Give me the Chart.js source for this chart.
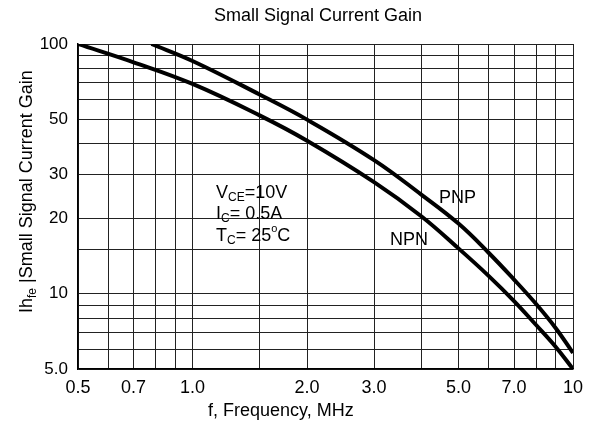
<!DOCTYPE html>
<html><head><meta charset="utf-8">
<script src="https://cdn.jsdelivr.net/npm/chart.js@4/dist/chart.umd.min.js"></script>
<style>html,body{margin:0;padding:0;background:#fff}canvas{display:block}</style>
</head><body>
<canvas id="c" width="595" height="432"></canvas>
<script>
// ---- data ----
const npnFreq = [0.5, 0.7, 1.0, 1.5, 2.0, 3.0, 4.0, 5.0, 6.0, 7.0, 8.0, 9.0, 10];
const npnGain = [100, 84.5, 69.2, 51.8, 41, 28.0, 20.4, 15.2, 11.8, 9.35, 7.5, 6.14, 5.0];
const pnpFreq = [0.78, 1.0, 1.5, 2.0, 3.0, 4.0, 5.0, 6.0, 7.0, 8.0, 9.0, 10];
const pnpGain = [100, 85.5, 62.8, 49.8, 34.3, 24.9, 19.1, 14.6, 11.4, 9.1, 7.3, 5.8];
const seriesNames = ['NPN', 'PNP'];
const xGridValues = [0.5, 0.6, 0.7, 0.8, 0.9, 1, 1.5, 2, 3, 4, 5, 6, 7, 8, 9, 10];
const yGridValues = [5, 6, 7, 8, 9, 10, 15, 20, 30, 40, 50, 60, 70, 80, 90, 100];
const xTickValues = [0.5, 0.7, 1, 2, 3, 5, 7, 10];
const xTickLabels = ['0.5', '0.7', '1.0', '2.0', '3.0', '5.0', '7.0', '10'];
const yTickValues = [5, 10, 20, 30, 50, 100];
const yTickLabels = ['5.0', '10', '20', '30', '50', '100'];
const chartTitle = 'Small Signal Current Gain';
const xTitle = 'f, Frequency, MHz';
const yTitleMain = 'Ih';
const yTitleSub = 'fe';
const yTitleRest = ' |Small Signal Current Gain';

const FONT = "'Liberation Sans', Arial, Helvetica, sans-serif";

function labelFor(v, vals, labels) {
  const i = vals.findIndex(t => Math.abs(t - v) < 1e-6 * Math.max(1, t));
  return i >= 0 ? labels[i] : '';
}

function drawRuns(c, x, y, runs) {
  for (const [txt, size, dy] of runs) {
    c.font = size + 'px ' + FONT;
    c.fillText(txt, x, y + dy);
    x += c.measureText(txt).width;
  }
}

const textPlugin = {
  id: 'texts',
  afterDraw(chart) {
    const c = chart.ctx;
    c.save();
    c.fillStyle = '#000';
    c.textBaseline = 'alphabetic';
    c.textAlign = 'center';
    c.font = '18px ' + FONT;
    c.fillText(chartTitle, 318, 21);
    c.textAlign = 'left';
    c.fillText(xTitle, 208, 416);
    // rotated y title
    c.save();
    c.translate(32, 313);
    c.rotate(-Math.PI / 2);
    drawRuns(c, 0, 0, [[yTitleMain, 18, 0], [yTitleSub, 12, 4], [yTitleRest, 18, 0]]);
    c.restore();
    // conditions
    drawRuns(c, 216, 198, [['V', 18, 0], ['CE', 12, 3], ['=10V', 18, 0]]);
    drawRuns(c, 216, 219, [['I', 18, 0], ['C', 12, 3], ['= 0.5A', 18, 0]]);
    drawRuns(c, 216, 241, [['T', 18, 0], ['C', 12, 3], ['= 25', 18, 0], ['o', 11, -9], ['C', 18, 0]]);
    // series labels
    c.font = '18px ' + FONT;
    c.fillText(seriesNames[1], 439, 203);
    c.fillText(seriesNames[0], 390, 245);
    c.restore();
  }
};

const ctx = document.getElementById('c').getContext('2d');
new Chart(ctx, {
  type: 'line',
  data: {
    datasets: [
      { label: seriesNames[0], data: npnFreq.map((f, i) => ({ x: f, y: npnGain[i] })),
        borderColor: '#000', borderWidth: 4, pointRadius: 0, fill: false, tension: 0.4 },
      { label: seriesNames[1], data: pnpFreq.map((f, i) => ({ x: f, y: pnpGain[i] })),
        borderColor: '#000', borderWidth: 4, pointRadius: 0, fill: false, tension: 0.4 }
    ]
  },
  options: {
    responsive: false, animation: false, devicePixelRatio: 1,
    layout: { padding: { top: 44, right: 22, left: 0, bottom: 0 } },
    plugins: { legend: { display: false }, title: { display: false }, tooltip: { enabled: false } },
    scales: {
      x: {
        type: 'logarithmic', min: 0.5, max: 10,
        afterBuildTicks: a => { a.ticks = xGridValues.map(v => ({ value: v })); },
        afterFit: s => { s.height = 63; },
        ticks: { autoSkip: false, maxRotation: 0, minRotation: 0, padding: 8, color: '#000',
          font: { family: FONT, size: 18 }, callback: v => labelFor(v, xTickValues, xTickLabels) },
        grid: { color: '#222', lineWidth: 1, drawTicks: false },
        border: { color: '#000', width: 1.5 }
      },
      y: {
        type: 'logarithmic', min: 5, max: 100,
        afterBuildTicks: a => { a.ticks = yGridValues.map(v => ({ value: v })); },
        afterFit: s => { s.width = 78; },
        ticks: { autoSkip: false, padding: 10, color: '#000',
          font: { family: FONT, size: 17 }, callback: v => labelFor(v, yTickValues, yTickLabels) },
        grid: { color: '#222', lineWidth: 1, drawTicks: false },
        border: { color: '#000', width: 1.5 }
      }
    }
  },
  plugins: [textPlugin]
});
</script>
</body></html>
